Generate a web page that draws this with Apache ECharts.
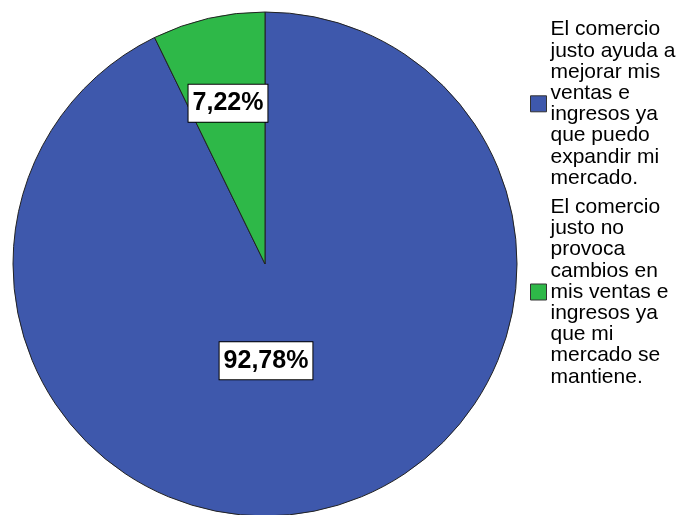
<!DOCTYPE html>
<html>
<head>
<meta charset="utf-8">
<script src="https://cdn.jsdelivr.net/npm/echarts@6/dist/echarts.min.js"></script>
<style>
  html, body { margin: 0; padding: 0; background: #fff; }
  #chart { width: 680px; height: 515px; }
</style>
</head>
<body>
<div id="chart"></div>
<script>
// Response categories (legend text, wrapped as shown)
const categories = [
  'El comercio\njusto ayuda a\nmejorar mis\nventas e\ningresos ya\nque puedo\nexpandir mi\nmercado.',
  'El comercio\njusto no\nprovoca\ncambios en\nmis ventas e\ningresos ya\nque mi\nmercado se\nmantiene.'
];
// Percentage of respondents
const percentages = [92.78, 7.22];
const colors = ['#3E58AC', '#2EB848'];

// Nudges for the in-slice percentage boxes (from the default inside spot)
const labelShift = [[-28, -29], [-8, -35]];

const chart = echarts.init(document.getElementById('chart'), null, { renderer: 'canvas' });

const data = categories.map((name, i) => ({
  name: name,
  value: percentages[i],
  itemStyle: { color: colors[i] }
}));

chart.setOption({
  backgroundColor: '#ffffff',
  animation: false,
  legend: {
    orient: 'vertical',
    left: 525,
    top: 14,
    itemWidth: 16,
    itemHeight: 16,
    itemGap: 8,
    icon: 'rect',
    itemStyle: { borderColor: '#333333', borderWidth: 1 },
    textStyle: {
      fontFamily: 'Liberation Sans, Arial, sans-serif',
      fontSize: 21,
      lineHeight: 21.2,
      color: '#000000',
      padding: [0, 0, 0, -1]
    },
    data: categories
  },
  series: [{
    type: 'pie',
    center: [265, 264],
    radius: 252,
    startAngle: 90,
    clockwise: true,
    avoidLabelOverlap: false,
    itemStyle: { borderColor: '#222222', borderWidth: 1 },
    emphasis: { disabled: true },
    label: {
      show: true,
      position: 'inside',
      formatter: p => p.value.toFixed(2).replace('.', ',') + '%',
      fontFamily: 'Liberation Sans, Arial, sans-serif',
      fontWeight: 'bold',
      fontSize: 25,
      color: '#000000',
      backgroundColor: '#ffffff',
      borderColor: '#000000',
      borderWidth: 1,
      padding: [7, 4, 5, 4]
    },
    labelLine: { show: false },
    labelLayout: params => ({
      dx: labelShift[params.dataIndex][0],
      dy: labelShift[params.dataIndex][1]
    }),
    data: data
  }]
});
</script>
</body>
</html>
